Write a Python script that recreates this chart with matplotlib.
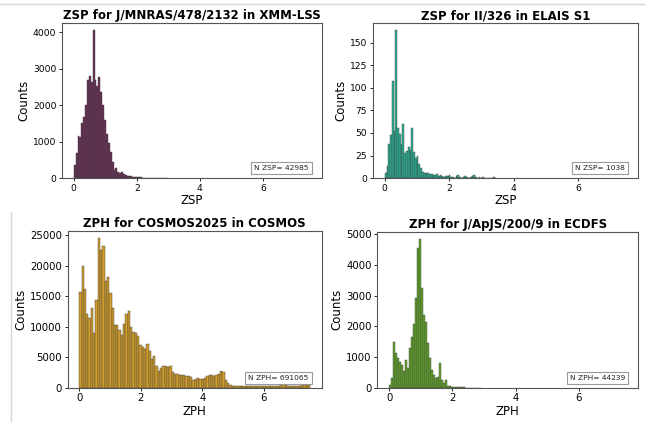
import numpy as np
import matplotlib
matplotlib.use("Agg")
import matplotlib.pyplot as plt
from matplotlib.lines import Line2D

# counts per bin (bins start at z = 0)
xmm_zsp = [355, 675, 1160, 1130, 1500, 1680, 2000, 2680, 2815, 2630, 4060, 2680, 2540, 2770,
           2360, 2000, 1590, 1220, 950, 720, 450, 220, 265, 170, 130, 170, 110, 80, 60, 50,
           45, 35, 30, 25, 20, 18, 15, 12, 10, 10, 8, 7, 6, 5, 5, 4, 4, 3, 3, 2]
elais_zsp = [6, 13, 38, 48, 108, 52, 164, 55, 49, 38, 60, 28, 30, 34, 31, 56, 29, 22, 24,
             16, 11, 7, 6, 6, 6, 5, 4, 3, 3, 4, 2, 3, 2, 1, 2, 2, 3, 1, 1, 0, 2, 3, 1, 0, 1,
             2, 1, 0, 1, 2, 3, 1, 0, 1, 0, 1, 0, 0, 0, 0, 0, 1]
cosmos_zph = [15600, 19900, 16100, 12000, 11500, 13000, 9000, 14300, 24500, 22500, 23300,
              17500, 18200, 15500, 13000, 10300, 10200, 9400, 8600, 10400, 12000, 12500,
              10000, 9200, 9000, 8400, 7000, 6700, 6300, 7200, 6000, 4700, 5200, 3600, 2700,
              3200, 3500, 3500, 3400, 3500, 2500, 2300, 2200, 2100, 2100, 2000, 1900, 1900,
              1800, 1300, 1500, 1600, 1500, 1500, 1600, 1900, 2100, 2000, 1900, 2100, 2300,
              2800, 2500, 1200, 800, 450, 300, 320, 300, 310, 290, 300, 280, 290, 300, 280,
              270, 290, 280, 260, 270, 280, 260, 250, 270, 260, 300, 380, 550, 480, 330, 300,
              320, 330, 350, 340, 360, 380, 400, 450]
ecdfs_zph = [90, 330, 1500, 1120, 980, 830, 740, 560, 900, 650, 1280, 1660, 2070, 2930,
             4540, 4850, 3240, 2370, 2150, 1450, 960, 580, 410, 300, 360, 790, 250, 140, 250,
             65, 40, 30, 20, 15, 12, 10, 8, 8, 6, 5, 5, 4, 3, 3, 2, 2]

panel_counts = [xmm_zsp, elais_zsp, cosmos_zph, ecdfs_zph]
bin_widths = [0.06, 0.055, 0.075, 0.063]
titles = ['ZSP for J/MNRAS/478/2132 in XMM-LSS', 'ZSP for II/326 in ELAIS S1',
          'ZPH for COSMOS2025 in COSMOS', 'ZPH for J/ApJS/200/9 in ECDFS']
xlabels = ['ZSP', 'ZSP', 'ZPH', 'ZPH']
n_labels = ['N ZSP= 42985', 'N ZSP= 1038', 'N ZPH= 691065', 'N ZPH= 44239']
colors = ['#6a3158', '#2db398', '#d39e2e', '#64a52c']

# axes boxes in figure fraction
boxes = [[0.0955, 0.578, 0.4006, 0.368],
         [0.5743, 0.578, 0.4092, 0.368],
         [0.1043, 0.0813, 0.3914, 0.372],
         [0.5814, 0.0813, 0.4021, 0.370]]
tick_sizes = [6.6, 6.6, 7.3, 7.3]

fig = plt.figure(figsize=(6.49, 4.22), dpi=100)

for k in range(4):
    ax = fig.add_axes(boxes[k])
    counts = np.array(panel_counts[k], dtype=float)
    edges = np.arange(len(counts) + 1) * bin_widths[k]
    ax.hist(edges[:-1], bins=edges, weights=counts, color=colors[k],
            edgecolor='#3a3a3a', linewidth=0.3)
    ax.set_xlim(-0.375, 7.875)
    ax.set_xticks([0, 2, 4, 6])
    ax.set_title(titles[k], fontsize=8.5, fontweight='bold', pad=2.5)
    ax.set_xlabel(xlabels[k], fontsize=8.5, labelpad=1)
    ax.set_ylabel('Counts', fontsize=8.5, labelpad=2)
    ax.tick_params(labelsize=tick_sizes[k], length=2.5, width=0.6, pad=1.5)
    for sp in ax.spines.values():
        sp.set_color('#555555')
        sp.set_linewidth(0.8)
    ax.annotate(n_labels[k], xy=(1, 0), xycoords='axes fraction',
                xytext=(-13, 7), textcoords='offset pixels', ha='right', va='bottom',
                fontsize=5.4, color='#222222',
                bbox=dict(boxstyle='square,pad=0.4', fc='white', ec='#999999', lw=0.8))

# notebook frame lines seen in the screenshot
fig.add_artist(Line2D([0, 0.992], [0.991, 0.991], color='#d6d6d6', lw=1.0))
fig.add_artist(Line2D([0.0165, 0.0165], [0.0, 0.497], color='#d6d6d6', lw=1.0))

fig.savefig('out.png', dpi=100)
